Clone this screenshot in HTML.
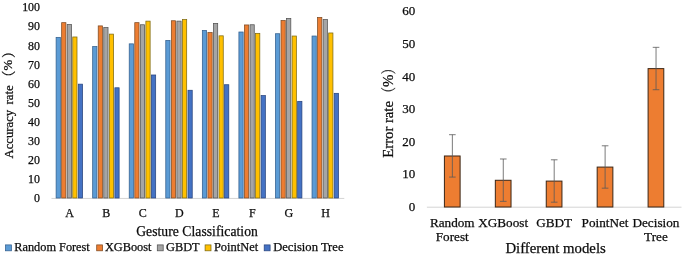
<!DOCTYPE html>
<html><head><meta charset="utf-8"><title>Charts</title>
<style>
html,body{margin:0;padding:0;background:#fff;}
body{width:685px;height:256px;overflow:hidden;}
svg{display:block;filter:blur(0.3px);}
text{font-family:"Liberation Serif","Noto Serif CJK SC",serif;fill:#0c0c0c;stroke:#0c0c0c;stroke-width:0.25;}
</style></head><body>
<svg width="685" height="256" viewBox="0 0 685 256">
<rect width="685" height="256" fill="#fff"/>
<g id="left">
<line x1="51.5" y1="198.45" x2="344.28" y2="198.45" stroke="#cfcfcf" stroke-width="0.9"/>
<rect x="56.11" y="37.36" width="4.25" height="160.64" fill="#5B9BD5" stroke="#335f8e" stroke-width="0.75"/>
<rect x="61.66" y="22.66" width="4.25" height="175.34" fill="#ED7D31" stroke="#7e4a22" stroke-width="0.75"/>
<rect x="67.20" y="24.56" width="4.25" height="173.44" fill="#A5A5A5" stroke="#525252" stroke-width="0.75"/>
<rect x="72.75" y="36.98" width="4.25" height="161.02" fill="#FFC000" stroke="#7e6a12" stroke-width="0.75"/>
<rect x="78.31" y="84.16" width="4.25" height="113.84" fill="#4472C4" stroke="#28447e" stroke-width="0.75"/>
<text x="69.58" y="217.2" font-size="12" text-anchor="middle">A</text>
<rect x="92.67" y="46.53" width="4.25" height="151.47" fill="#5B9BD5" stroke="#335f8e" stroke-width="0.75"/>
<rect x="98.22" y="25.90" width="4.25" height="172.10" fill="#ED7D31" stroke="#7e4a22" stroke-width="0.75"/>
<rect x="103.77" y="27.62" width="4.25" height="170.38" fill="#A5A5A5" stroke="#525252" stroke-width="0.75"/>
<rect x="109.31" y="34.12" width="4.25" height="163.88" fill="#FFC000" stroke="#7e6a12" stroke-width="0.75"/>
<rect x="114.87" y="87.79" width="4.25" height="110.21" fill="#4472C4" stroke="#28447e" stroke-width="0.75"/>
<text x="106.14" y="217.2" font-size="12" text-anchor="middle">B</text>
<rect x="129.22" y="43.86" width="4.25" height="154.14" fill="#5B9BD5" stroke="#335f8e" stroke-width="0.75"/>
<rect x="134.78" y="22.66" width="4.25" height="175.34" fill="#ED7D31" stroke="#7e4a22" stroke-width="0.75"/>
<rect x="140.32" y="24.76" width="4.25" height="173.24" fill="#A5A5A5" stroke="#525252" stroke-width="0.75"/>
<rect x="145.88" y="21.13" width="4.25" height="176.87" fill="#FFC000" stroke="#7e6a12" stroke-width="0.75"/>
<rect x="151.42" y="74.99" width="4.25" height="123.01" fill="#4472C4" stroke="#28447e" stroke-width="0.75"/>
<text x="142.70" y="217.2" font-size="12" text-anchor="middle">C</text>
<rect x="165.78" y="40.42" width="4.25" height="157.58" fill="#5B9BD5" stroke="#335f8e" stroke-width="0.75"/>
<rect x="171.34" y="20.75" width="4.25" height="177.25" fill="#ED7D31" stroke="#7e4a22" stroke-width="0.75"/>
<rect x="176.88" y="21.13" width="4.25" height="176.87" fill="#A5A5A5" stroke="#525252" stroke-width="0.75"/>
<rect x="182.44" y="19.60" width="4.25" height="178.40" fill="#FFC000" stroke="#7e6a12" stroke-width="0.75"/>
<rect x="187.98" y="90.27" width="4.25" height="107.73" fill="#4472C4" stroke="#28447e" stroke-width="0.75"/>
<text x="179.26" y="217.2" font-size="12" text-anchor="middle">D</text>
<rect x="202.34" y="30.49" width="4.25" height="167.51" fill="#5B9BD5" stroke="#335f8e" stroke-width="0.75"/>
<rect x="207.90" y="32.59" width="4.25" height="165.41" fill="#ED7D31" stroke="#7e4a22" stroke-width="0.75"/>
<rect x="213.44" y="23.42" width="4.25" height="174.58" fill="#A5A5A5" stroke="#525252" stroke-width="0.75"/>
<rect x="219.00" y="35.83" width="4.25" height="162.17" fill="#FFC000" stroke="#7e6a12" stroke-width="0.75"/>
<rect x="224.54" y="84.73" width="4.25" height="113.27" fill="#4472C4" stroke="#28447e" stroke-width="0.75"/>
<text x="215.82" y="217.2" font-size="12" text-anchor="middle">E</text>
<rect x="238.91" y="32.01" width="4.25" height="165.99" fill="#5B9BD5" stroke="#335f8e" stroke-width="0.75"/>
<rect x="244.46" y="24.95" width="4.25" height="173.05" fill="#ED7D31" stroke="#7e4a22" stroke-width="0.75"/>
<rect x="250.00" y="24.76" width="4.25" height="173.24" fill="#A5A5A5" stroke="#525252" stroke-width="0.75"/>
<rect x="255.56" y="33.35" width="4.25" height="164.65" fill="#FFC000" stroke="#7e6a12" stroke-width="0.75"/>
<rect x="261.11" y="95.62" width="4.25" height="102.38" fill="#4472C4" stroke="#28447e" stroke-width="0.75"/>
<text x="252.38" y="217.2" font-size="12" text-anchor="middle">F</text>
<rect x="275.46" y="33.73" width="4.25" height="164.27" fill="#5B9BD5" stroke="#335f8e" stroke-width="0.75"/>
<rect x="281.01" y="20.55" width="4.25" height="177.45" fill="#ED7D31" stroke="#7e4a22" stroke-width="0.75"/>
<rect x="286.56" y="18.45" width="4.25" height="179.55" fill="#A5A5A5" stroke="#525252" stroke-width="0.75"/>
<rect x="292.11" y="36.03" width="4.25" height="161.97" fill="#FFC000" stroke="#7e6a12" stroke-width="0.75"/>
<rect x="297.66" y="101.35" width="4.25" height="96.65" fill="#4472C4" stroke="#28447e" stroke-width="0.75"/>
<text x="288.94" y="217.2" font-size="12" text-anchor="middle">G</text>
<rect x="312.03" y="36.03" width="4.25" height="161.97" fill="#5B9BD5" stroke="#335f8e" stroke-width="0.75"/>
<rect x="317.58" y="17.50" width="4.25" height="180.50" fill="#ED7D31" stroke="#7e4a22" stroke-width="0.75"/>
<rect x="323.13" y="19.60" width="4.25" height="178.40" fill="#A5A5A5" stroke="#525252" stroke-width="0.75"/>
<rect x="328.68" y="32.97" width="4.25" height="165.03" fill="#FFC000" stroke="#7e6a12" stroke-width="0.75"/>
<rect x="334.23" y="93.33" width="4.25" height="104.67" fill="#4472C4" stroke="#28447e" stroke-width="0.75"/>
<text x="325.50" y="217.2" font-size="12" text-anchor="middle">H</text>
<text x="40.0" y="202.35" font-size="11.9" text-anchor="end">0</text>
<text x="40.0" y="183.25" font-size="11.9" text-anchor="end">10</text>
<text x="40.0" y="164.15" font-size="11.9" text-anchor="end">20</text>
<text x="40.0" y="145.05" font-size="11.9" text-anchor="end">30</text>
<text x="40.0" y="125.95" font-size="11.9" text-anchor="end">40</text>
<text x="40.0" y="106.85" font-size="11.9" text-anchor="end">50</text>
<text x="40.0" y="87.75" font-size="11.9" text-anchor="end">60</text>
<text x="40.0" y="68.65" font-size="11.9" text-anchor="end">70</text>
<text x="40.0" y="49.55" font-size="11.9" text-anchor="end">80</text>
<text x="40.0" y="30.45" font-size="11.9" text-anchor="end">90</text>
<text x="40.0" y="11.35" font-size="11.9" text-anchor="end">100</text>
<text transform="translate(13.00,158.50) rotate(-90)" font-size="12.7">Accuracy</text>
<text transform="translate(13.00,104.60) rotate(-90)" font-size="12.9">rate</text>
<text transform="translate(12.50,83.60) rotate(-90) scale(0.9,1)" font-size="14.1">（</text>
<text transform="translate(11.50,70.40) rotate(-90)" font-size="12.9">%</text>
<text transform="translate(12.50,58.00) rotate(-90) scale(0.9,1)" font-size="14.1">）</text>
<text x="136.2" y="236.35" font-size="13.6" textLength="121.6" lengthAdjust="spacing">Gesture Classification</text>
<rect x="5.50" y="244.9" width="5.9" height="5.9" fill="#5B9BD5" stroke="#335f8e" stroke-width="0.75"/>
<text x="14.30" y="251.2" font-size="12.3">Random Forest</text>
<rect x="96.70" y="244.9" width="5.9" height="5.9" fill="#ED7D31" stroke="#7e4a22" stroke-width="0.75"/>
<text x="104.90" y="251.2" font-size="12.35">XGBoost</text>
<rect x="157.30" y="244.9" width="5.9" height="5.9" fill="#A5A5A5" stroke="#525252" stroke-width="0.75"/>
<text x="166.00" y="251.2" font-size="12.35">GBDT</text>
<rect x="205.10" y="244.9" width="5.9" height="5.9" fill="#FFC000" stroke="#7e6a12" stroke-width="0.75"/>
<text x="213.90" y="251.2" font-size="12.45">PointNet</text>
<rect x="264.20" y="244.9" width="5.9" height="5.9" fill="#4472C4" stroke="#28447e" stroke-width="0.75"/>
<text x="273.20" y="251.2" font-size="12.6">Decision Tree</text>
</g>
<g id="right">
<line x1="426.9" y1="207.2" x2="681.5" y2="207.2" stroke="#cfcfcf" stroke-width="0.9"/>
<rect x="444.41" y="155.99" width="15.70" height="51.01" fill="#ED7D31" stroke="#3b2616" stroke-width="1.0"/>
<path d="M452.36 134.70V177.08M449.06 134.70h6.6M449.06 177.08h6.6" fill="none" stroke="#595959" stroke-width="0.8"/>
<text x="452.26" y="227.0" font-size="13.2" text-anchor="middle">Random</text>
<text x="452.26" y="241.4" font-size="13.2" text-anchor="middle">Forest</text>
<rect x="495.33" y="180.28" width="15.70" height="26.72" fill="#ED7D31" stroke="#3b2616" stroke-width="1.0"/>
<path d="M503.28 158.99V201.37M499.98 158.99h6.6M499.98 201.37h6.6" fill="none" stroke="#595959" stroke-width="0.8"/>
<text x="503.18" y="227.0" font-size="13.2" text-anchor="middle">XGBoost</text>
<rect x="546.25" y="181.09" width="15.70" height="25.91" fill="#ED7D31" stroke="#3b2616" stroke-width="1.0"/>
<path d="M554.20 159.80V202.18M550.90 159.80h6.6M550.90 202.18h6.6" fill="none" stroke="#595959" stroke-width="0.8"/>
<text x="554.10" y="227.0" font-size="13.2" text-anchor="middle">GBDT</text>
<rect x="597.17" y="167.08" width="15.70" height="39.92" fill="#ED7D31" stroke="#3b2616" stroke-width="1.0"/>
<path d="M605.12 145.79V188.17M601.82 145.79h6.6M601.82 188.17h6.6" fill="none" stroke="#595959" stroke-width="0.8"/>
<text x="605.02" y="227.0" font-size="13.2" text-anchor="middle">PointNet</text>
<rect x="648.09" y="68.62" width="15.70" height="138.38" fill="#ED7D31" stroke="#3b2616" stroke-width="1.0"/>
<path d="M656.04 47.33V89.71M652.74 47.33h6.6M652.74 89.71h6.6" fill="none" stroke="#595959" stroke-width="0.8"/>
<text x="655.94" y="227.0" font-size="13.2" text-anchor="middle">Decision</text>
<text x="655.94" y="241.4" font-size="13.2" text-anchor="middle">Tree</text>
<text x="415.3" y="211.00" font-size="13" text-anchor="end">0</text>
<text x="415.3" y="178.40" font-size="13" text-anchor="end">10</text>
<text x="415.3" y="145.80" font-size="13" text-anchor="end">20</text>
<text x="415.3" y="113.20" font-size="13" text-anchor="end">30</text>
<text x="415.3" y="80.60" font-size="13" text-anchor="end">40</text>
<text x="415.3" y="48.00" font-size="13" text-anchor="end">50</text>
<text x="415.3" y="15.40" font-size="13" text-anchor="end">60</text>
<text transform="translate(392.80,157.70) rotate(-90) scale(1.03,1)" font-size="14.3">Error</text>
<text transform="translate(392.80,123.10) rotate(-90) scale(1.03,1)" font-size="14.3">rate</text>
<text transform="translate(393.60,99.20) rotate(-90) scale(0.8,1)" font-size="15.3">（</text>
<text transform="translate(392.50,87.10) rotate(-90)" font-size="14.9">%</text>
<text transform="translate(393.60,74.30) rotate(-90) scale(0.8,1)" font-size="15.3">）</text>
<text x="555.6" y="252.6" font-size="14.8" text-anchor="middle">Different models</text>
</g>
</svg>
</body></html>
